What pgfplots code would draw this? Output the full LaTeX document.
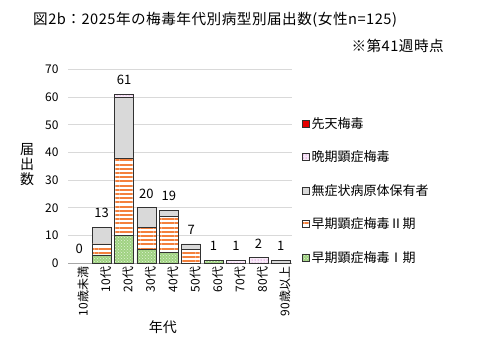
\documentclass[border=0pt]{standalone}
\usepackage{fontspec}
\setmainfont{Noto Sans CJK JP}
\newfontfamily\titlefont{Noto Sans CJK JP}[LetterSpace=3.5]
\usepackage{pgfplots}
\pgfplotsset{compat=1.18}
\usetikzlibrary{patterns,patterns.meta}
\definecolor{gridgray}{RGB}{217,217,217}
\definecolor{axisgray}{RGB}{166,166,166}
\definecolor{bordergray}{RGB}{50,50,50}
\definecolor{greenbase}{RGB}{160,210,130}
\definecolor{greendot}{RGB}{225,242,215}
\definecolor{orangeline}{RGB}{244,128,60}
\definecolor{asymgray}{RGB}{217,217,217}
\definecolor{latebase}{RGB}{248,235,248}
\definecolor{latedot}{RGB}{185,50,185}
\definecolor{congred}{RGB}{230,0,0}
\begin{document}
\begin{tikzpicture}[x=1pt,y=1pt]
\useasboundingbox (0,0) rectangle (479,362);
\node[anchor=west,font=\titlefont\fontsize{14.6}{16}\selectfont,inner sep=0pt] at (33,342) {図2b：2025年の梅毒年代別病型別届出数(女性n=125)};
\node[anchor=east,font=\titlefont\fontsize{14.6}{16}\selectfont,inner sep=0pt] at (444,316) {※第41週時点};
\begin{axis}[
  at={(68pt,98.7pt)}, anchor=south west,
  scale only axis, width=224pt, height=194pt,
  ybar stacked, bar width=19pt,
  xmin=-0.5, xmax=9.5, ymin=0, ymax=70,
  xtick={0,1,2,3,4,5,6,7,8,9},
  xticklabels={10歳未満,10代,20代,30代,40代,50代,60代,70代,80代,90歳以上},
  x tick label style={rotate=90, anchor=east, font=\fontsize{12}{14}\selectfont, yshift=-4pt},
  ytick={0,10,20,30,40,50,60,70},
  yticklabel style={font=\fontsize{12}{14}\selectfont, xshift=-6pt},
  /pgf/number format/assume math mode=true,
  ymajorgrids, grid style={draw=gridgray, line width=0.8pt},
  axis lines*=left,
  x axis line style={draw=axisgray, line width=0.8pt, -},
  y axis line style={draw=none},
  major tick length=0pt,
  xlabel={年代},
  xlabel style={at={(axis description cs:0.424,-0.328)}, anchor=center, font=\fontsize{14}{16}\selectfont},
  ylabel={届\\出\\数},
  ylabel style={rotate=-90, at={(axis description cs:-0.183,0.507)}, anchor=center, align=center, font=\fontsize{14}{15}\selectfont},
  legend style={at={(axis description cs:1.03,0.375)}, anchor=west, draw=none, fill=none,
    font=\fontsize{13}{15}\selectfont, row sep=17pt, cells={anchor=west}},
  reverse legend,
  legend image code/.code={\draw[#1] (0pt,-3.5pt) rectangle (7pt,3.5pt);},
]
% early stage I
\addplot[draw=bordergray, line width=0.8pt, fill=greenbase,
  postaction={pattern=crosshatch dots, pattern color=greendot}]
  coordinates {(0,0) (1,3) (2,10) (3,5) (4,4) (5,0) (6,1) (7,0) (8,0) (9,0)};
\addlegendentry{早期顕症梅毒Ⅰ期}
% early stage II
\addplot[draw=bordergray, line width=0.8pt, fill=white,
  postaction={pattern={Lines[angle=0,distance=4.2pt,line width=1.9pt]}, pattern color=orangeline}]
  coordinates {(0,0) (1,4) (2,28) (3,8) (4,13) (5,5) (6,0) (7,0) (8,0) (9,0)};
\addlegendentry{早期顕症梅毒Ⅱ期}
% asymptomatic
\addplot[draw=bordergray, line width=0.8pt, fill=asymgray]
  coordinates {(0,0) (1,6) (2,22) (3,7) (4,2) (5,2) (6,0) (7,0) (8,0) (9,1)};
\addlegendentry{無症状病原体保有者}
% late
\addplot[draw=bordergray, line width=0.8pt, fill=latebase,
  postaction={pattern=dots, pattern color=latedot}]
  coordinates {(0,0) (1,0) (2,1) (3,0) (4,0) (5,0) (6,0) (7,1) (8,2) (9,0)};
\addlegendentry{晩期顕症梅毒}
% congenital (all zero)
\addplot[draw=none, fill=none,
  legend image code/.code={\draw[draw=bordergray,fill=congred,line width=0.6pt] (0pt,-3.5pt) rectangle (7pt,3.5pt);}]
  coordinates {(0,0) (1,0) (2,0) (3,0) (4,0) (5,0) (6,0) (7,0) (8,0) (9,0)};
\addlegendentry{先天梅毒}
\end{axis}
% totals above the bars, on an identical overlay axis
\begin{axis}[
  at={(68pt,98.7pt)}, anchor=south west,
  scale only axis, width=224pt, height=194pt,
  xmin=-0.5, xmax=9.5, ymin=0, ymax=70,
  hide axis, clip=false,
  /pgf/number format/assume math mode=true,
]
\addplot[only marks, mark=none, point meta=explicit, nodes near coords,
  nodes near coords={\pgfmathprintnumber[assume math mode=true]{\pgfplotspointmeta}},
  every node near coord/.append style={font=\fontsize{13}{15}\selectfont, text=black, anchor=south, yshift=6pt}]
  coordinates {(0,0)[0] (1,13)[13] (2,61)[61] (3,20)[20] (4,19)[19] (5,7)[7] (6,1)[1] (7,1)[1] (8,2)[2] (9,1)[1]};
\end{axis}
\end{tikzpicture}
\end{document}
